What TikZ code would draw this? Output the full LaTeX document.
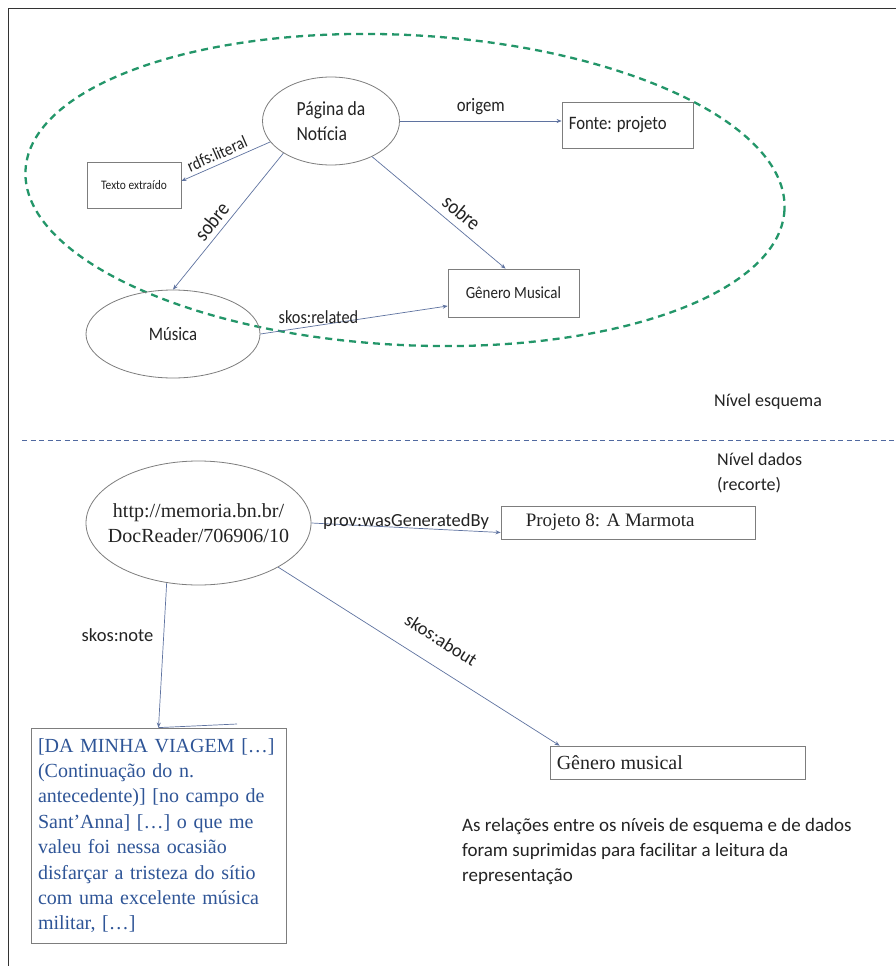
\documentclass[tikz,border=0pt]{standalone}
\usepackage{fontspec}
\setmainfont{Carlito}
\newfontfamily\topf[FakeStretch=0.88]{Carlito}
\newfontfamily\lowf{Carlito}
\newfontfamily\serf{Liberation Serif}
\usetikzlibrary{shapes.geometric,arrows.meta}
\definecolor{lnc}{RGB}{95,115,160}
\definecolor{grn}{RGB}{35,150,105}
\definecolor{dblue}{RGB}{80,105,160}
\definecolor{txtblue}{RGB}{47,85,151}
\definecolor{outl}{RGB}{125,125,125}
\definecolor{ink}{RGB}{35,35,35}
\newcommand{\Tfnt}[1]{\topf\fontsize{#1}{25}\selectfont}
\newcommand{\Lfnt}[1]{\lowf\fontsize{#1}{25}\selectfont}
\newcommand{\Sfnt}[1]{\serf\fontsize{#1}{25}\selectfont}
\begin{document}
\begin{tikzpicture}[x=1pt,y=-1pt,
  arr/.style={draw=lnc, line width=0.7pt, -{Stealth[length=5pt,width=4pt]}},
  ell/.style={ellipse, draw=outl, line width=0.8pt, inner sep=0pt},
  box/.style={rectangle, draw=outl, line width=0.8pt, inner sep=0pt},
  lbl/.style={inner sep=0pt, text=ink}]
\useasboundingbox (0,0) rectangle (896,966);
\fill[white] (0,0) rectangle (896,966);
\draw[line width=1.6pt, black!80] (8.5,966) -- (8.5,8.5) -- (896,8.5);

% schema level
\draw[grn, line width=2.3pt, dash pattern=on 7pt off 5pt, rotate around={-3:(405,190)}]
  (405,190) ellipse [x radius=380, y radius=155];

\node[ell, minimum width=137pt, minimum height=88pt, align=left, text=ink, font=\Tfnt{20}] (pag) at (331,121) {Página da\\Notícia};
\node[box, minimum width=131pt, minimum height=46pt,
  label={[lbl, font=\Tfnt{19}, anchor=west, xshift=7pt]west:{Fonte: projeto}}] (fonte) at (627.5,125) {};
\node[box, minimum width=94pt, minimum height=46pt, text=ink, font=\Tfnt{13}] (txt) at (134,185) {Texto extraído};
\node[ell, minimum width=174pt, minimum height=88pt, text=ink, font=\Tfnt{19}] (mus) at (173,334) {Música};
\node[box, minimum width=131pt, minimum height=48pt,
  label={[lbl, font=\Tfnt{17}, anchor=west, xshift=18pt]west:{Gênero Musical}}] (gen) at (513.5,293) {};

\draw[arr] (pag.east) -- node[lbl, above=6pt, font=\Tfnt{19}] {origem} (pag.east -| fonte.west);
\draw[arr] (pag.199) -- node[lbl, sloped, above=4pt, pos=0.55, font=\Tfnt{17.5}] {rdfs:literal} ([yshift=4pt]txt.east);
\draw[arr] (pag.214) -- node[lbl, sloped, above=5pt, pos=0.56, font=\Tfnt{21}] {sobre} (mus.north);
\draw[arr] (pag.-41) -- node[lbl, sloped, above=7pt, pos=0.6, font=\Tfnt{21}] {sobre} ([xshift=-8pt]gen.north);
\draw[arr] (mus.east) -- node[lbl, pos=0.31, above=1pt, font=\Tfnt{18.5}] {skos:related} ([yshift=-13pt]gen.west);

\node[lbl, anchor=west, font=\Lfnt{18}] (nesq) at (714,402) {Nível esquema};

% separator
\draw[dblue, line width=1pt, dash pattern=on 5pt off 3.5pt] (22,440) -- (896,440);

% data level
\node[lbl, anchor=north west, align=left, font=\Lfnt{18}] (ndad) at (717,453) {Nível dados\\(recorte)};

\node[ell, minimum width=225pt, minimum height=124pt,
  label={[lbl, align=center, font=\Sfnt{20}]center:{http://memoria.bn.br/\\DocReader/706906/10}}] (url) at (198.5,523) {};
\node[box, minimum width=254pt, minimum height=33pt,
  label={[lbl, font=\Sfnt{19}, anchor=west, xshift=25pt]west:{Projeto 8: A Marmota}}] (proj) at (628,522.5) {};
\draw[arr] (url.east) -- node[lbl, above=-2pt, font=\Lfnt{18.5}] {prov:wasGeneratedBy} ([yshift=-10pt]proj.west);

\node[box, minimum width=255pt, minimum height=215pt, text width=241pt, inner xsep=7pt, align=left,
  text=txtblue, font=\serf\fontsize{20}{25.4}\selectfont] (note) at (158.5,835.5)
  {[DA MINHA VIAGEM […]\\(Continuação do n.\\antecedente)] [no campo de\\Sant’Anna] […] o que me\\valeu foi nessa ocasião\\disfarçar a tristeza do sítio\\com uma excelente música\\militar, […]};
\node[box, minimum width=255pt, minimum height=33pt,
  label={[lbl, font=\Sfnt{20}, anchor=west, xshift=7pt]west:{Gênero musical}}] (gm) at (677.5,762.5) {};

\draw[arr] (url.-118) -- node[lbl, pos=0.36, left=10pt, font=\Lfnt{18.5}] {skos:note} (note.north);
\coordinate (strayend) at (237,724);
\draw[lnc, line width=0.7pt] (note.north) -- (strayend);
\draw[arr] (url.-29) -- node[lbl, sloped, above=19pt, pos=0.53, font=\Lfnt{18.5}] {skos:about} ([xshift=10pt]gm.north west);

\node[lbl, anchor=north west, align=left, font=\Lfnt{19}] (rel) at (462,818)
  {As relações entre os níveis de esquema e de dados\\foram suprimidas para facilitar a leitura da\\representação};
\end{tikzpicture}
\end{document}
